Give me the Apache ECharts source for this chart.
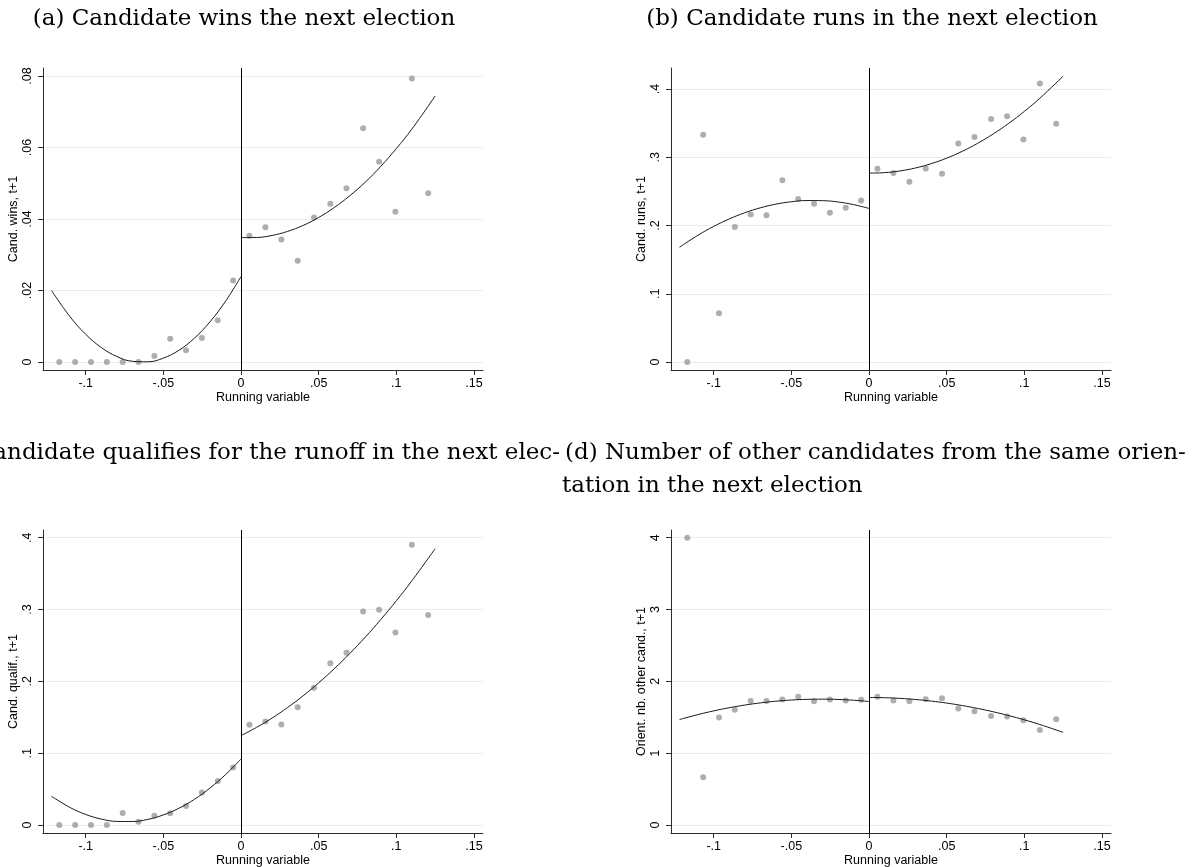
<!DOCTYPE html>
<html>
<head>
<meta charset="utf-8">
<script src="https://cdn.jsdelivr.net/npm/echarts@6/dist/echarts.min.js"></script>
<style>
html,body{margin:0;padding:0;background:#fff;}
#chart{width:1194px;height:867px;}
</style>
</head>
<body>
<div id="chart"></div>
<script>
// ---- bin centres (running variable) ----
const binsLeft  = [-0.117,-0.1068,-0.0966,-0.0864,-0.0762,-0.066,-0.0558,-0.0456,-0.0354,-0.0252,-0.015,-0.0051];
const binsRight = [0.0054,0.0157,0.026,0.0365,0.047,0.0575,0.0679,0.0786,0.0889,0.0994,0.11,0.1205];

// ---- binned means ----
const winsLeft    = [0,0,0,0,0,0,0.0017,0.0065,0.0033,0.0067,0.0117,0.0228];
const winsRight   = [0.0353,0.0377,0.0343,0.0283,0.0404,0.0443,0.0486,0.0654,0.056,0.042,0.0793,0.0472];
const runsLeft    = [0,0.333,0.0714,0.198,0.216,0.215,0.2665,0.239,0.232,0.2186,0.2259,0.2367];
const runsRight   = [0.283,0.2768,0.264,0.2836,0.2758,0.3203,0.3296,0.356,0.36,0.326,0.408,0.349];
const qualLeft    = [0,0,0,0,0.0167,0.0046,0.013,0.0163,0.0265,0.0451,0.0613,0.0799];
const qualRight   = [0.1394,0.144,0.1398,0.164,0.191,0.2253,0.2397,0.2973,0.2997,0.2681,0.3903,0.2922];
const orientLeft  = [4.0,0.664,1.496,1.603,1.728,1.728,1.747,1.784,1.724,1.747,1.733,1.742];
const orientRight = [1.784,1.733,1.724,1.752,1.765,1.621,1.584,1.519,1.51,1.459,1.324,1.473];

// ---- fitted curves ----
const fitXLeft  = [-0.122,-0.11,-0.1,-0.09,-0.08,-0.07,-0.06,-0.05,-0.04,-0.03,-0.02,-0.01,0];
const fitXRight = [0,0.01,0.02,0.03,0.04,0.05,0.06,0.07,0.08,0.09,0.1,0.11,0.125];
const winsFitLeft    = [0.0200,0.0126,0.00775,0.00406,0.00154,0.0002,0.00005,0.00108,0.00328,0.00667,0.01123,0.01698,0.0239];
const winsFitRight   = [0.0348,0.03483,0.0354,0.03654,0.0382,0.04042,0.0432,0.04649,0.0503,0.05473,0.0597,0.06515,0.0744];
const runsFitLeft    = [0.1682,0.18595,0.1987,0.20961,0.2187,0.22591,0.2313,0.23485,0.2366,0.23643,0.2345,0.23065,0.225];
const runsFitRight   = [0.2768,0.27746,0.27998,0.28436,0.29061,0.29872,0.30868,0.32052,0.33421,0.34976,0.3672,0.38646,0.41887];
const qualFitLeft    = [0.03994,0.02428,0.0147,0.00826,0.00498,0.00484,0.00784,0.014,0.0233,0.03576,0.0514,0.0701,0.092];
const qualFitRight   = [0.1245,0.13589,0.1489,0.1636,0.1799,0.19786,0.2175,0.23868,0.2615,0.28605,0.3122,0.33999,0.38474];
const orientFitLeft  = [1.468,1.5379,1.5887,1.6326,1.6696,1.6998,1.7232,1.7396,1.7492,1.752,1.7478,1.7369,1.719];
const orientFitRight = [1.775,1.7719,1.7626,1.747,1.7252,1.6973,1.663,1.6226,1.576,1.5231,1.464,1.3987,1.2891];

// ---- ticks ----
const xTickValues = [-0.1,-0.05,0,0.05,0.1,0.15];
const xTickLabels = ['-.1','-.05','0','.05','.1','.15'];
const yTicksSmall = [0,0.02,0.04,0.06,0.08];
const yLabelsSmall = ['0','.02','.04','.06','.08'];
const yTicksProb = [0,0.1,0.2,0.3,0.4];
const yLabelsProb = ['0','.1','.2','.3','.4'];
const yTicksCount = [0,1,2,3,4];
const yLabelsCount = ['0','1','2','3','4'];

// ---- text ----
const panelTitles = [
  '(a) Candidate wins the next election',
  '(b) Candidate runs in the next election',
  '(c) Candidate qualifies for the runoff in the next elec-',
  '(d) Number of other candidates from the same orien-',
  'tation in the next election'
];
const yNames = ['Cand. wins, t+1','Cand. runs, t+1','Cand. qualif., t+1','Orient. nb. other cand., t+1'];
const xName = 'Running variable';

const panels = [
  {yl: winsLeft, yr: winsRight, fl: winsFitLeft, fr: winsFitRight, ticks: yTicksSmall, labels: yLabelsSmall, min:-0.00224, max:0.08224},
  {yl: runsLeft, yr: runsRight, fl: runsFitLeft, fr: runsFitRight, ticks: yTicksProb, labels: yLabelsProb, min:-0.0117, max:0.4308},
  {yl: qualLeft, yr: qualRight, fl: qualFitLeft, fr: qualFitRight, ticks: yTicksProb, labels: yLabelsProb, min:-0.01115, max:0.4107},
  {yl: orientLeft, yr: orientRight, fl: orientFitLeft, fr: orientFitRight, ticks: yTicksCount, labels: yLabelsCount, min:-0.1115, max:4.107}
];
const gridBoxes = [
  {left:43, top:68, width:440, height:302},
  {left:671, top:68, width:440, height:302},
  {left:43, top:530, width:440, height:303},
  {left:671, top:530, width:440, height:303}
];

const SANS = '"Liberation Sans", Arial, sans-serif';
const SERIF = '"DejaVu Serif", serif';
const axisColor = '#2b2b2b';
const gridColor = '#e4edef';

function zip(xs, ys){ return xs.map((x,i)=>[x, ys[i]]); }
function lookup(vals, labs){
  return function(v){
    for (let i=0;i<vals.length;i++){ if (Math.abs(v-vals[i])<1e-9) return labs[i]; }
    return '';
  };
}

const grid=[], xAxis=[], yAxis=[], series=[];
panels.forEach((p,i)=>{
  grid.push(Object.assign({containLabel:false, outerBoundsMode:'none'}, gridBoxes[i]));
  xAxis.push({
    type:'value', gridIndex:i, min:-0.1275, max:0.1558,
    axisLine:{show:true, onZero:false, lineStyle:{color:axisColor, width:1}},
    axisTick:{show:true, length:5, customValues:xTickValues, lineStyle:{color:axisColor, width:1}},
    axisLabel:{customValues:xTickValues, formatter:lookup(xTickValues,xTickLabels), margin:7,
               color:'#000', fontFamily:SANS, fontSize:12.5},
    splitLine:{show:false},
    name:xName, nameLocation:'middle', nameGap:19,
    nameTextStyle:{color:'#000', fontFamily:SANS, fontSize:12.5}
  });
  yAxis.push({
    type:'value', gridIndex:i, min:p.min, max:p.max,
    axisLine:{show:true, onZero:false, lineStyle:{color:axisColor, width:1}},
    axisTick:{show:true, length:5, customValues:p.ticks, lineStyle:{color:axisColor, width:1}},
    axisLabel:{customValues:p.ticks, formatter:lookup(p.ticks,p.labels), rotate:90, margin:9,
               color:'#000', fontFamily:SANS, fontSize:12.5},
    splitLine:{show:true, lineStyle:{color:gridColor, width:1}},
    name:yNames[i], nameLocation:'middle', nameGap:20, nameRotate:90,
    nameTextStyle:{color:'#000', fontFamily:SANS, fontSize:12.5}
  });
  const ptStyle = {color:'#9a9a9a'};
  series.push({type:'scatter', xAxisIndex:i, yAxisIndex:i, data:zip(binsLeft,p.yl), symbolSize:6, itemStyle:ptStyle, z:3});
  series.push({type:'scatter', xAxisIndex:i, yAxisIndex:i, data:zip(binsRight,p.yr), symbolSize:6, itemStyle:ptStyle, z:3});
  const ls = {color:'#1a1a1a', width:1};
  series.push({type:'line', xAxisIndex:i, yAxisIndex:i, data:zip(fitXLeft,p.fl), smooth:0.4, symbol:'none', lineStyle:ls, z:4,
    markLine:{silent:true, symbol:'none', label:{show:false}, lineStyle:{color:'#000', width:1, type:'solid'}, data:[{xAxis:0}], animation:false}});
  series.push({type:'line', xAxisIndex:i, yAxisIndex:i, data:zip(fitXRight,p.fr), smooth:0.4, symbol:'none', lineStyle:ls, z:4});
});

const titleFont = '23px ' + SERIF;
const graphic = [
  {type:'text', x:244, y:19, style:{text:panelTitles[0], font:titleFont, fill:'#000', align:'center', verticalAlign:'middle'}},
  {type:'text', x:872, y:19, style:{text:panelTitles[1], font:titleFont, fill:'#000', align:'center', verticalAlign:'middle'}},
  {type:'text', x:560, y:453, style:{text:panelTitles[2], font:titleFont, fill:'#000', align:'right', verticalAlign:'middle'}},
  {type:'text', x:565, y:453, style:{text:panelTitles[3], font:titleFont, fill:'#000', align:'left', verticalAlign:'middle'}},
  {type:'text', x:562, y:486, style:{text:panelTitles[4], font:titleFont, fill:'#000', align:'left', verticalAlign:'middle'}}
];

const chart = echarts.init(document.getElementById('chart'), null, {renderer:'canvas'});
chart.setOption({
  animation:false,
  backgroundColor:'#fff',
  grid, xAxis, yAxis, series, graphic
});
</script>
</body>
</html>
